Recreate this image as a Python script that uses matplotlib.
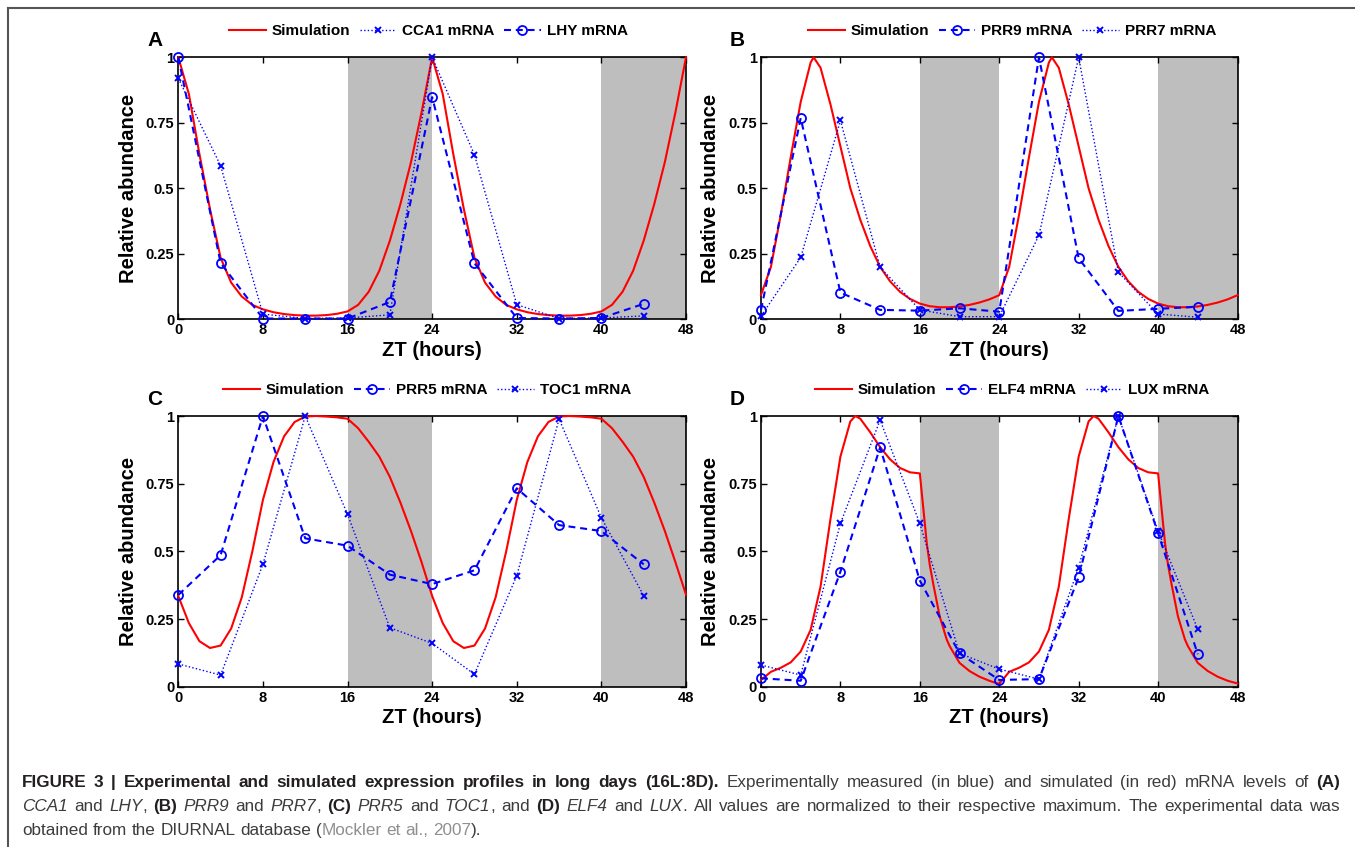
import matplotlib
matplotlib.use('Agg')
import matplotlib.pyplot as plt
from matplotlib.lines import Line2D

plt.rcParams['font.family'] = ['Liberation Sans', 'DejaVu Sans']
plt.rcParams['lines.scale_dashes'] = False

W, H = 1355, 847

# sampling times of the measured mRNA (ZT, hours)
zt = [0, 4, 8, 12, 16, 20, 24, 28, 32, 36, 40, 44]

# A: CCA1 / LHY
cca1 = [0.92, 0.586, 0.02, 0.003, 0.005, 0.017, 1.0, 0.628, 0.056, 0.003, 0.005, 0.013]
lhy = [1.0, 0.215, 0.003, 0.003, 0.003, 0.066, 0.848, 0.214, 0.005, 0.003, 0.005, 0.059]
sim_a_t = list(range(49))
sim_a = [1.0, 0.86, 0.63, 0.42, 0.235, 0.14, 0.087, 0.055, 0.038, 0.027, 0.02, 0.016,
         0.014, 0.014, 0.016, 0.021, 0.03, 0.055, 0.105, 0.185, 0.3, 0.44, 0.6, 0.79,
         1.0, 0.86, 0.63, 0.42, 0.235, 0.14, 0.087, 0.055, 0.038, 0.027, 0.02, 0.016,
         0.014, 0.014, 0.016, 0.021, 0.03, 0.055, 0.105, 0.185, 0.3, 0.44, 0.6, 0.79, 1.0]

# B: PRR9 / PRR7
prr9 = [0.036, 0.768, 0.102, 0.036, 0.033, 0.042, 0.029, 1.0, 0.233, 0.032, 0.04, 0.048]
prr7 = [0.012, 0.236, 0.759, 0.199, 0.036, 0.01, 0.01, 0.321, 1.0, 0.18, 0.02, 0.008]
sim_b_t = [0, 1, 2, 3, 4, 5, 5.3, 6, 7, 8, 9, 10, 11, 12, 13, 14, 15, 16, 17, 18, 19, 20,
           21, 22, 23, 24, 25, 26, 27, 28, 29, 29.3, 30, 31, 32, 33, 34, 35, 36, 37, 38,
           39, 40, 41, 42, 43, 44, 45, 46, 47, 48]
sim_b = [0.093, 0.2, 0.4, 0.62, 0.83, 0.98, 1.0, 0.96, 0.82, 0.66, 0.5, 0.38, 0.28, 0.2,
         0.145, 0.105, 0.078, 0.06, 0.05, 0.046, 0.046, 0.049, 0.055, 0.064, 0.076,
         0.092, 0.2, 0.4, 0.62, 0.83, 0.98, 1.0, 0.96, 0.82, 0.66, 0.5, 0.38, 0.28, 0.2,
         0.145, 0.105, 0.078, 0.06, 0.05, 0.046, 0.046, 0.049, 0.055, 0.064, 0.076, 0.092]

# C: PRR5 / TOC1
prr5 = [0.339, 0.486, 1.0, 0.548, 0.521, 0.414, 0.379, 0.43, 0.733, 0.597, 0.575, 0.452]
toc1 = [0.084, 0.043, 0.452, 1.0, 0.637, 0.218, 0.16, 0.046, 0.41, 0.989, 0.624, 0.336]
sim_c_t = list(range(49))
sim_c = [0.335, 0.235, 0.168, 0.143, 0.152, 0.215, 0.33, 0.5, 0.69, 0.83, 0.925, 0.978,
         0.998, 1.0, 0.998, 0.995, 0.99, 0.955, 0.905, 0.85, 0.775, 0.68, 0.575, 0.46,
         0.335, 0.235, 0.168, 0.143, 0.152, 0.215, 0.33, 0.5, 0.69, 0.83, 0.925, 0.978,
         0.998, 1.0, 0.998, 0.995, 0.99, 0.955, 0.905, 0.85, 0.775, 0.68, 0.575, 0.46, 0.34]

# D: ELF4 / LUX
elf4 = [0.031, 0.022, 0.425, 0.884, 0.392, 0.123, 0.025, 0.028, 0.404, 1.0, 0.567, 0.12]
lux = [0.08, 0.043, 0.603, 0.985, 0.603, 0.123, 0.065, 0.028, 0.44, 1.0, 0.575, 0.212]
sim_d_t = [0, 1, 2, 3, 4, 5, 6, 7, 8, 9, 9.5, 10, 11, 12, 13, 14, 15, 16, 16.7, 17, 17.35,
           18, 18.7, 19, 20, 21, 22, 23, 24, 25, 26, 27, 28, 29, 30, 31, 32, 33, 33.5, 34,
           35, 36, 37, 38, 39, 40, 40.7, 41, 41.35, 42, 42.7, 43, 44, 45, 46, 47, 48]
sim_d = [0.025, 0.055, 0.07, 0.09, 0.13, 0.21, 0.37, 0.62, 0.85, 0.98, 1.0, 0.99, 0.94,
         0.885, 0.84, 0.808, 0.792, 0.788, 0.53, 0.45, 0.38, 0.26, 0.175, 0.15, 0.088,
         0.058, 0.037, 0.022, 0.01, 0.055, 0.07, 0.09, 0.13, 0.21, 0.37, 0.62, 0.85, 0.98,
         1.0, 0.99, 0.94, 0.885, 0.84, 0.808, 0.792, 0.788, 0.53, 0.45, 0.38, 0.26, 0.175,
         0.15, 0.088, 0.058, 0.037, 0.022, 0.012]

dark_periods = [(16, 24), (40, 48)]
xticks = [0, 8, 16, 24, 32, 40, 48]
yticks = [0, 0.25, 0.5, 0.75, 1]
ytick_labels = ['0', '0.25', '0.5', '0.75', '1']

BLUE = '#0000ff'
RED = '#ff0000'
dashed_o = dict(color=BLUE, ls=(0, (5, 3.5)), lw=1.5, marker='o', ms=6.5,
                mfc='none', mew=1.3)
dotted_x = dict(color=BLUE, ls=(0, (1, 1.6)), lw=1.0, marker='x', ms=4, mew=1.4)

# letter, axes box in pixels (left, top, right, bottom), sim, series, legend start
panels = [
    ('A', (178.3, 57.3, 686, 319.3), sim_a_t, sim_a,
     [('CCA1 mRNA', cca1, dotted_x), ('LHY mRNA', lhy, dashed_o)], 229),
    ('B', (761, 57.3, 1237.5, 319.3), sim_b_t, sim_b,
     [('PRR9 mRNA', prr9, dashed_o), ('PRR7 mRNA', prr7, dotted_x)], 808),
    ('C', (178.3, 416, 686, 686.7), sim_c_t, sim_c,
     [('PRR5 mRNA', prr5, dashed_o), ('TOC1 mRNA', toc1, dotted_x)], 223),
    ('D', (761, 416, 1237.5, 686.7), sim_d_t, sim_d,
     [('ELF4 mRNA', elf4, dashed_o), ('LUX mRNA', lux, dotted_x)], 815),
]


def fx(x):
    return x / W


def fy(y):
    return 1 - y / H


fig = plt.figure(figsize=(W / 100, H / 100), dpi=100)
fig.patch.set_facecolor('white')

for letter, (l, t, r, b), st, sv, series, leg_x in panels:
    ax = fig.add_axes([fx(l), fy(b), (r - l) / W, (b - t) / H])
    for x0, x1 in dark_periods:
        ax.axvspan(x0, x1, color='#bebebe', lw=0, zorder=0)
    handles = []
    h, = ax.plot(st, sv, color=RED, lw=1.5, zorder=3, clip_on=False, label='Simulation')
    handles.append(h)
    for name, vals, style in series:
        h, = ax.plot(zt, vals, zorder=4, clip_on=False, label=name, **style)
        handles.append(h)
    ax.set_xlim(0, 48)
    ax.set_ylim(0, 1)
    ax.set_xticks(xticks)
    ax.set_xticklabels([str(v) for v in xticks])
    ax.set_yticks(yticks)
    ax.set_yticklabels(ytick_labels)
    ax.tick_params(direction='in', length=4, width=1, top=True, right=True,
                   labelsize=10.5, pad=3)
    for lab in ax.get_xticklabels() + ax.get_yticklabels():
        lab.set_fontweight('bold')
    for sp in ax.spines.values():
        sp.set_linewidth(1.2)
        sp.set_zorder(2.5)

    cy = t - 26
    ax.legend(handles=handles, ncol=3, loc='center left',
              bbox_to_anchor=(fx(leg_x), fy(cy)), bbox_transform=fig.transFigure,
              frameon=False, handlelength=2.4, handletextpad=0.4, columnspacing=0.6,
              borderpad=0, borderaxespad=0, numpoints=1,
              prop=dict(weight='bold', size=11))

    fig.text(fx(l - 23.5), fy(t - 17), letter, fontsize=15, fontweight='bold',
             ha='center', va='center')
    fig.text(fx(l - 50), fy((t + b) / 2), 'Relative abundance', rotation=90,
             fontsize=14.5, fontweight='bold', ha='center', va='center')
    fig.text(fx((l + r) / 2), fy(b + 31), 'ZT (hours)', fontsize=14.5,
             fontweight='bold', ha='center', va='center')

# border of the figure box
fig.add_artist(Line2D([fx(8), fx(W)], [fy(8), fy(8)], color='#555555', lw=1.5))
fig.add_artist(Line2D([fx(8), fx(8)], [fy(8), fy(H)], color='#555555', lw=1.5))

# caption, justified between the two margins
caption = [
    [('FIGURE 3 | Experimental and simulated expression profiles in long days (16L:8D).', 'b'),
     (' Experimentally measured (in blue) and simulated (in red) mRNA levels of ', 'r'),
     ('(A)', 'b')],
    [('CCA1', 'i'), (' and ', 'r'), ('LHY', 'i'), (', ', 'r'), ('(B)', 'b'), (' ', 'r'),
     ('PRR9', 'i'), (' and ', 'r'), ('PRR7', 'i'), (', ', 'r'), ('(C)', 'b'), (' ', 'r'),
     ('PRR5', 'i'), (' and ', 'r'), ('TOC1', 'i'), (', and ', 'r'), ('(D)', 'b'), (' ', 'r'),
     ('ELF4', 'i'), (' and ', 'r'), ('LUX', 'i'),
     ('. All values are normalized to their respective maximum. The experimental data was', 'r')],
    [('obtained from the DIURNAL database (', 'r'), ('Mockler et al., 2007', 'l'), (').', 'r')],
]
kinds = {
    'b': dict(fontweight='bold', color='#231f20'),
    'r': dict(color='#3c3c3c'),
    'i': dict(style='italic', color='#3c3c3c'),
    'l': dict(color='#8f8f8f'),
}
cap_size = 12.3
cap_x0, cap_x1 = 22, 1340
cap_base = [787, 811, 835]

renderer = fig.canvas.get_renderer()
for li, runs in enumerate(caption):
    words = [[]]
    for text, kind in runs:
        for i, part in enumerate(text.split(' ')):
            if i > 0:
                words.append([])
            if part:
                words[-1].append((part, kind))
    words = [w for w in words if w]
    placed = []
    widths = []
    for w in words:
        ww = 0
        items = []
        for part, kind in w:
            txt = fig.text(0, 0, part, fontsize=cap_size, va='baseline', ha='left',
                           **kinds[kind])
            pw = txt.get_window_extent(renderer).width
            items.append((txt, ww))
            ww += pw
        placed.append(items)
        widths.append(ww)
    if li < len(caption) - 1:
        gap = (cap_x1 - cap_x0 - sum(widths)) / (len(words) - 1)
    else:
        gap = cap_size * 0.278 * 100 / 72
    x = cap_x0
    for items, ww in zip(placed, widths):
        for txt, off in items:
            txt.set_position((fx(x + off), fy(cap_base[li])))
        x += ww + gap

fig.savefig('out.png', dpi=100)
